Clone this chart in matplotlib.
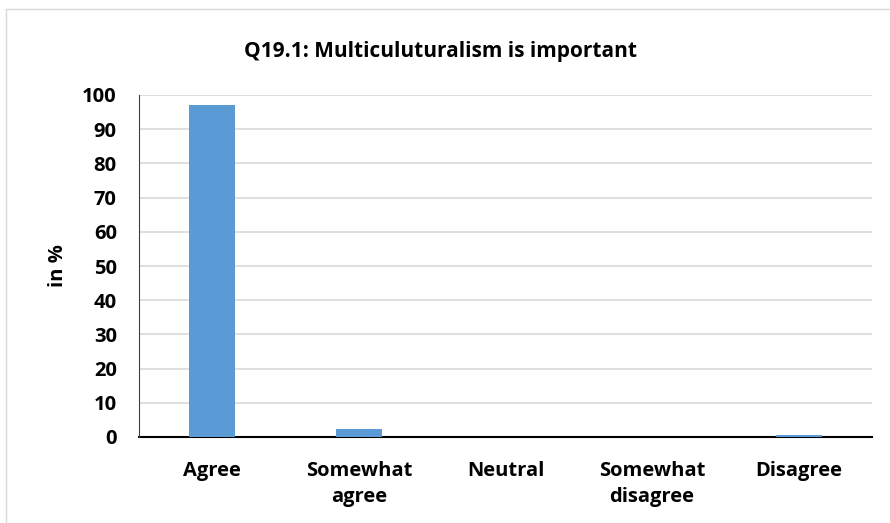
import matplotlib.pyplot as plt
from matplotlib.lines import Line2D

categories = ['Agree', 'Somewhat\nagree', 'Neutral', 'Somewhat\ndisagree', 'Disagree']
values = [97.0, 2.3, 0.0, 0.0, 0.6]
yticks = [0, 10, 20, 30, 40, 50, 60, 70, 80, 90, 100]

plt.rcParams['font.family'] = ['Open Sans', 'DejaVu Sans']

fig = plt.figure(figsize=(8.9, 5.23), dpi=100)
ax = fig.add_axes([139 / 890, 1 - 437 / 523, 733 / 890, 342 / 523])

# chart area border (only left and top edges fall inside the picture)
fig.lines.append(Line2D([6 / 890, 6 / 890], [0, 1 - 9 / 523], transform=fig.transFigure,
                        color='#D9D9D9', linewidth=1))
fig.lines.append(Line2D([6 / 890, 1], [1 - 9 / 523, 1 - 9 / 523], transform=fig.transFigure,
                        color='#D9D9D9', linewidth=1))

x = range(len(categories))
ax.bar(x, values, width=0.315, color='#5B9BD5', zorder=3)

ax.set_xlim(-0.5, len(categories) - 0.5)
ax.set_ylim(0, 100)
ax.set_yticks(yticks)
ax.set_yticklabels([str(t) for t in yticks], fontsize=14.5, fontweight='bold')
ax.set_xticks(list(x))
ax.set_xticklabels(categories, fontsize=14.5, fontweight='bold', linespacing=1.4)
ax.tick_params(axis='both', length=0)
ax.tick_params(axis='y', pad=16)
ax.tick_params(axis='x', pad=17)

ax.grid(axis='y', color='#D9D9D9', linewidth=1.2, zorder=0)
for s in ['top', 'right']:
    ax.spines[s].set_visible(False)
ax.spines['left'].set_color('#404040')
ax.spines['bottom'].set_color('black')
ax.spines['bottom'].set_linewidth(1.5)
ax.spines['bottom'].set_zorder(2)

ax.set_ylabel('in %', fontsize=14.5, fontweight='bold', labelpad=10)
fig.text(0.5 - 0.005, 1 - 52 / 523, 'Q19.1: Multiculuturalism is important',
         ha='center', va='center', fontsize=15, fontweight='bold')

fig.savefig('out.png', dpi=100)
